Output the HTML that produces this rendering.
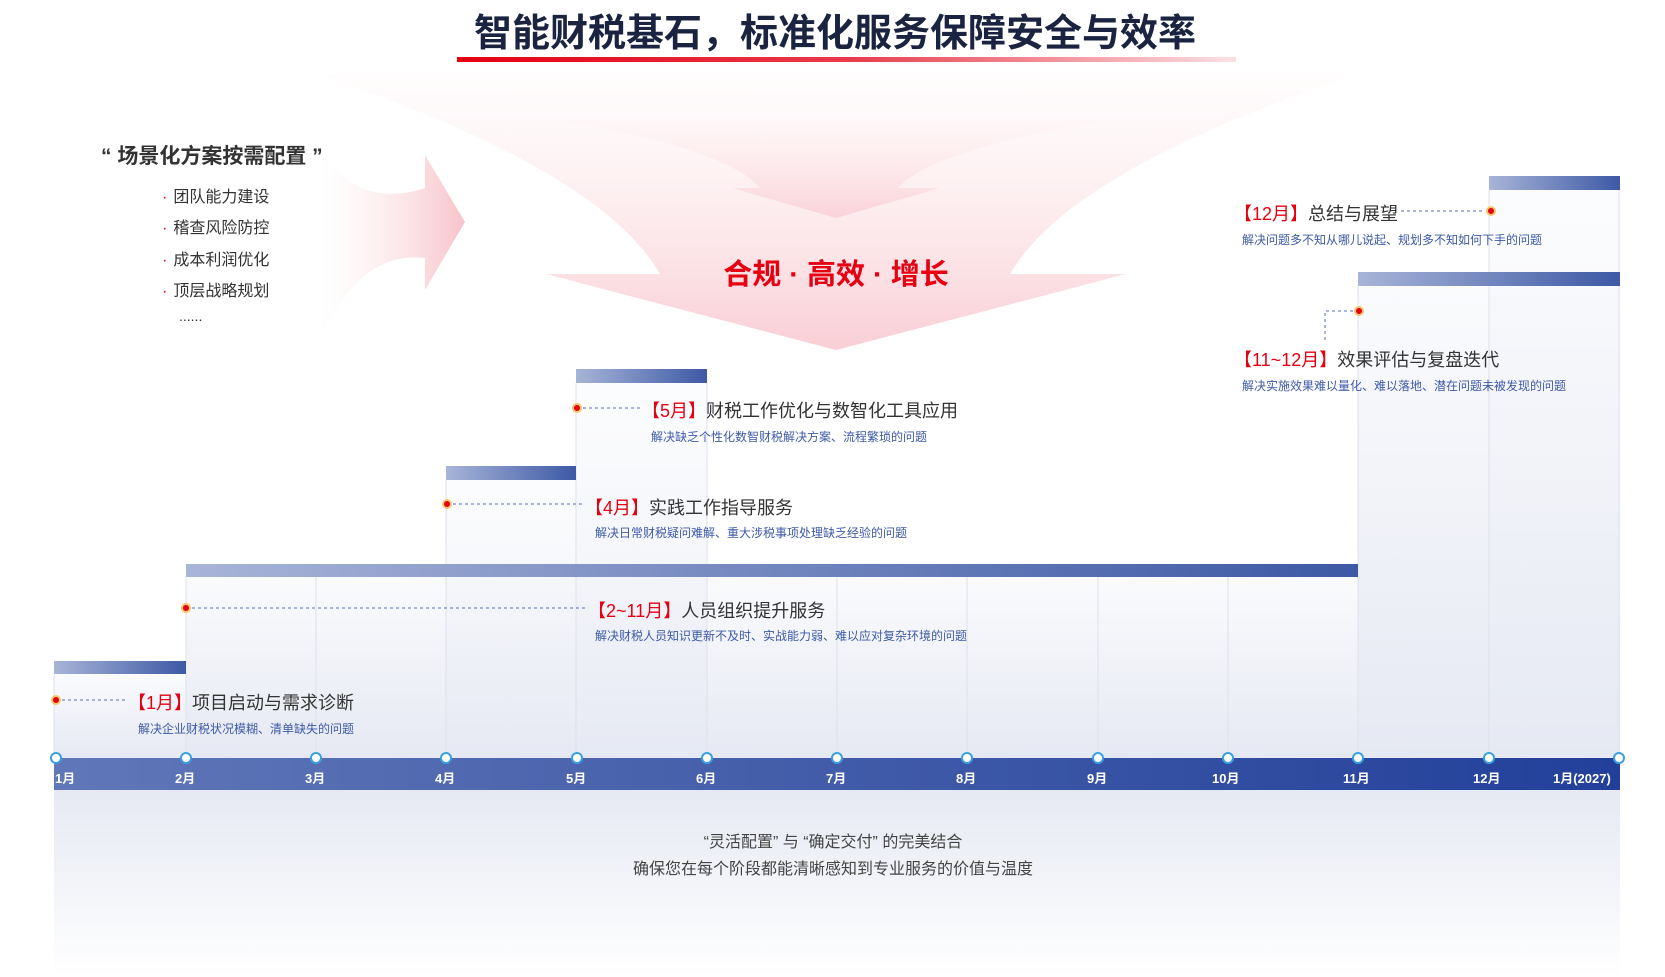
<!DOCTYPE html>
<html><head><meta charset="utf-8">
<style>
body{margin:0;width:1665px;height:977px;background:#fff;position:relative;overflow:hidden;font-family:"Liberation Sans","Noto Sans CJK SC",sans-serif}
.t{position:absolute;white-space:nowrap}
.lab{font-size:18px;color:#333}
.lab b{color:#e50012;font-weight:normal}
.sub{font-size:12px;color:#3d5aa8}
.bul{font-size:16px;color:#333}
.bul:before{content:"·";color:#e50012;margin-right:6px}
.ax{font-size:13px;color:#fff;font-weight:bold}
</style></head><body>
<svg width="1665" height="977" style="position:absolute;left:0;top:0">
<defs>
<linearGradient id="pk" x1="0" y1="0" x2="0" y2="1"><stop offset="0" stop-color="#fde8ea" stop-opacity="0.1"/><stop offset="1" stop-color="#f8c9d0" stop-opacity="0.9"/></linearGradient>
<linearGradient id="pkl" x1="0" y1="0" x2="1" y2="0"><stop offset="0" stop-color="#fde8ea" stop-opacity="0"/><stop offset="1" stop-color="#f6c3ca"/></linearGradient>
<linearGradient id="ul" x1="0" y1="0" x2="1" y2="0"><stop offset="0" stop-color="#e50012"/><stop offset="0.5" stop-color="#e83a4a"/><stop offset="1" stop-color="#fbe0e3"/></linearGradient>
<linearGradient id="bar" x1="0" y1="0" x2="1" y2="0"><stop offset="0" stop-color="#a8b4d8"/><stop offset="1" stop-color="#3d59a5"/></linearGradient>
<linearGradient id="col" x1="0" y1="0" x2="0" y2="1"><stop offset="0" stop-color="#fafbfd"/><stop offset="1" stop-color="#e6e9f3"/></linearGradient>
<linearGradient id="axg" x1="0" y1="0" x2="1" y2="0"><stop offset="0" stop-color="#6077b8"/><stop offset="1" stop-color="#22409a"/></linearGradient>
<linearGradient id="bot" x1="0" y1="0" x2="0" y2="1"><stop offset="0" stop-color="#e6e9f3"/><stop offset="1" stop-color="#ffffff"/></linearGradient>
</defs>
<rect x="457" y="57" width="779" height="5" fill="url(#ul)"/>
<path d="M320,75 Q600,170 660,274 L546,274 L836,350 L1126,274 L1010,274 Q1070,170 1355,75 Z" fill="url(#pk)"/>
<path d="M560,120 Q730,150 760,188 L732,188 L836,218 L940,188 L898,188 Q930,150 1110,120 Z" fill="url(#pk)" opacity="0.8"/>
<path d="M320,150 Q360,210 425,188 L425,155 L465,222 L425,290 L425,258 Q360,250 320,340 Z" fill="url(#pkl)"/>
<rect x="54" y="674" width="132" height="84" fill="url(#col)"/>
<rect x="186" y="577" width="1172" height="181" fill="url(#col)"/>
<rect x="446" y="480" width="130" height="278" fill="url(#col)" opacity="0.7"/>
<rect x="576" y="383" width="131" height="375" fill="url(#col)" opacity="0.7"/>
<rect x="1358" y="286" width="262" height="472" fill="url(#col)"/>
<rect x="1489" y="190" width="131" height="568" fill="url(#col)" opacity="0.7"/>
<g stroke="#dde1ea" stroke-width="1">
<line x1="186" y1="577" x2="186" y2="758"/><line x1="316" y1="577" x2="316" y2="758"/><line x1="446" y1="480" x2="446" y2="758"/><line x1="576" y1="383" x2="576" y2="758"/><line x1="707" y1="383" x2="707" y2="758"/><line x1="837" y1="577" x2="837" y2="758"/><line x1="967" y1="577" x2="967" y2="758"/><line x1="1098" y1="577" x2="1098" y2="758"/><line x1="1228" y1="577" x2="1228" y2="758"/><line x1="1358" y1="286" x2="1358" y2="758"/><line x1="1489" y1="190" x2="1489" y2="758"/><line x1="1619" y1="190" x2="1619" y2="758"/><line x1="54" y1="674" x2="54" y2="758"/>
</g>
<rect x="54" y="661" width="132" height="13" fill="url(#bar)"/>
<rect x="186" y="564" width="1172" height="13" fill="url(#bar)"/>
<rect x="446" y="466" width="130" height="14" fill="url(#bar)"/>
<rect x="576" y="369" width="131" height="14" fill="url(#bar)"/>
<rect x="1358" y="272" width="262" height="14" fill="url(#bar)"/>
<rect x="1489" y="176" width="131" height="14" fill="url(#bar)"/>
<rect x="54" y="790" width="1566" height="187" fill="url(#bot)"/>
<rect x="54" y="758" width="1566" height="32" fill="url(#axg)"/>
<g fill="#fff" stroke="#3aa0e0" stroke-width="2">
<circle cx="56" cy="758" r="5"/><circle cx="186" cy="758" r="5"/><circle cx="316" cy="758" r="5"/><circle cx="446" cy="758" r="5"/><circle cx="577" cy="758" r="5"/><circle cx="707" cy="758" r="5"/><circle cx="837" cy="758" r="5"/><circle cx="967" cy="758" r="5"/><circle cx="1098" cy="758" r="5"/><circle cx="1228" cy="758" r="5"/><circle cx="1358" cy="758" r="5"/><circle cx="1489" cy="758" r="5"/><circle cx="1619" cy="758" r="5"/>
</g>
<g stroke="#5a6fb0" stroke-width="1" stroke-dasharray="3,3" fill="none">
<line x1="62" y1="700" x2="128" y2="700"/>
<line x1="192" y1="608" x2="588" y2="608"/>
<line x1="453" y1="504" x2="585" y2="504"/>
<line x1="583" y1="408" x2="642" y2="408"/>
<polyline points="1353,311 1325,311 1325,340"/>
<line x1="1401" y1="211" x2="1485" y2="211"/>
</g>
<g fill="#e50012" stroke="#f7c66b" stroke-width="2">
<circle cx="56" cy="700" r="4"/><circle cx="186" cy="608" r="4"/><circle cx="447" cy="504" r="4"/><circle cx="577" cy="408" r="4"/><circle cx="1359" cy="311" r="4"/><circle cx="1491" cy="211" r="4"/>
</g>
</svg>

<div class="t" style="left:0;width:1670px;text-align:center;top:2px;font-size:38px;font-weight:bold;color:#1a2440">智能财税基石，标准化服务保障安全与效率</div>
<div class="t" style="left:0;width:1672px;text-align:center;top:251px;font-size:29px;font-weight:bold;color:#e50012">合规 · 高效 · 增长</div>

<div class="t" style="left:101px;top:140px;font-size:21px;font-weight:bold;color:#333">“ 场景化方案按需配置 ”</div>
<div class="t bul" style="left:162px;top:183px">团队能力建设</div>
<div class="t bul" style="left:162px;top:214px">稽查风险防控</div>
<div class="t bul" style="left:162px;top:246px">成本利润优化</div>
<div class="t bul" style="left:162px;top:277px">顶层战略规划</div>
<div class="t" style="left:179px;top:308px;font-size:14px;color:#333">......</div>

<div class="t lab" style="left:128px;top:689px"><b>【1月】</b>项目启动与需求诊断</div>
<div class="t sub" style="left:138px;top:720px">解决企业财税状况模糊、清单缺失的问题</div>
<div class="t lab" style="left:588px;top:597px"><b>【2~11月】</b>人员组织提升服务</div>
<div class="t sub" style="left:595px;top:627px">解决财税人员知识更新不及时、实战能力弱、难以应对复杂环境的问题</div>
<div class="t lab" style="left:585px;top:494px"><b>【4月】</b>实践工作指导服务</div>
<div class="t sub" style="left:595px;top:524px">解决日常财税疑问难解、重大涉税事项处理缺乏经验的问题</div>
<div class="t lab" style="left:642px;top:397px"><b>【5月】</b>财税工作优化与数智化工具应用</div>
<div class="t sub" style="left:651px;top:428px">解决缺乏个性化数智财税解决方案、流程繁琐的问题</div>
<div class="t lab" style="left:1234px;top:346px"><b>【11~12月】</b>效果评估与复盘迭代</div>
<div class="t sub" style="left:1242px;top:377px">解决实施效果难以量化、难以落地、潜在问题未被发现的问题</div>
<div class="t lab" style="left:1234px;top:200px"><b>【12月】</b>总结与展望</div>
<div class="t sub" style="left:1242px;top:231px">解决问题多不知从哪儿说起、规划多不知如何下手的问题</div>

<div class="t ax" style="left:55px;top:768px">1月</div>
<div class="t ax" style="left:175px;top:768px">2月</div>
<div class="t ax" style="left:305px;top:768px">3月</div>
<div class="t ax" style="left:435px;top:768px">4月</div>
<div class="t ax" style="left:566px;top:768px">5月</div>
<div class="t ax" style="left:696px;top:768px">6月</div>
<div class="t ax" style="left:826px;top:768px">7月</div>
<div class="t ax" style="left:956px;top:768px">8月</div>
<div class="t ax" style="left:1087px;top:768px">9月</div>
<div class="t ax" style="left:1212px;top:768px">10月</div>
<div class="t ax" style="left:1343px;top:768px">11月</div>
<div class="t ax" style="left:1473px;top:768px">12月</div>
<div class="t ax" style="left:1553px;top:768px">1月(2027)</div>

<div class="t" style="left:0;width:1666px;text-align:center;top:828px;font-size:16px;color:#444">“灵活配置” 与 “确定交付” 的完美结合</div>
<div class="t" style="left:0;width:1666px;text-align:center;top:855px;font-size:16px;color:#444">确保您在每个阶段都能清晰感知到专业服务的价值与温度</div>
</body></html>
